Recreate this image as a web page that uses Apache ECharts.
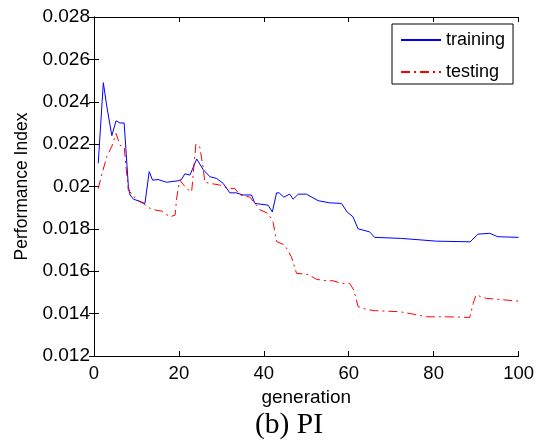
<!DOCTYPE html>
<html>
<head>
<meta charset="utf-8">
<script src="https://cdn.jsdelivr.net/npm/echarts@6/dist/echarts.min.js"></script>
<style>html,body{margin:0;padding:0;background:#fff;}#c{width:537px;height:442px;}</style>
</head>
<body>
<div id="c"></div>
<script>
var xTicks = [0, 20, 40, 60, 80, 100];
var yTicks = [0.012, 0.014, 0.016, 0.018, 0.02, 0.022, 0.024, 0.026, 0.028];
var seriesNames = ['training', 'testing'];

var trainGen = [1, 2.2, 3, 4.2, 5.2, 6.1, 7.1, 7.6, 8.1, 8.5, 9.3, 10.8, 12, 13, 13.8, 15.1, 17.1, 19.8, 20.6, 21.4, 22.6, 23, 24.2, 25.7, 27.3, 28.9, 30.4, 32, 33.5, 35.1, 37.1, 37.9, 41, 42, 43, 43.6, 44.7, 46.1, 46.9, 48.1, 50, 52.8, 55.5, 58.3, 58.6, 59.6, 61, 62.2, 63.4, 64.9, 66.1, 72.4, 77.5, 80.6, 88.6, 90.4, 93.2, 95.1, 100];
var trainPI = [0.0211, 0.0249, 0.0238, 0.0224, 0.0231, 0.0230, 0.0230, 0.0215, 0.0200, 0.0196, 0.0194, 0.0193, 0.0192, 0.0207, 0.0203, 0.02033, 0.0202, 0.02027, 0.02033, 0.0206, 0.02054, 0.0205, 0.0213, 0.0208, 0.02046, 0.02038, 0.02015, 0.0197, 0.0197, 0.0196, 0.0196, 0.0192, 0.01912, 0.0188, 0.0197, 0.0197, 0.0195, 0.01964, 0.0194, 0.01964, 0.01964, 0.01933, 0.01923, 0.0192, 0.0192, 0.0188, 0.01857, 0.0180, 0.01794, 0.01786, 0.0176, 0.01755, 0.01747, 0.01742, 0.01739, 0.01775, 0.01779, 0.01763, 0.0176];

var testGen = [1, 1.8, 3, 4.2, 5.2, 5.7, 6.1, 7.1, 7.7, 8.1, 8.9, 10, 11.6, 13.2, 14.4, 15.9, 17.9, 19.1, 19.5, 20.2, 21.8, 23, 24, 24.9, 25.7, 26.1, 27.3, 29.6, 31.6, 33.2, 34.4, 36.7, 39.1, 41, 42.2, 43, 44.9, 46.5, 47.7, 50.4, 52.4, 54.7, 56.3, 58.3, 60.2, 61.2, 62.2, 64.2, 66.1, 72, 75.1, 78.3, 83, 88.5, 89.3, 90, 92.4, 97.1, 100];
var testPI = [0.0199, 0.02054, 0.0214, 0.0219, 0.0225, 0.0222, 0.02195, 0.02187, 0.0206, 0.0198, 0.01967, 0.01936, 0.0192, 0.01897, 0.01889, 0.01884, 0.01857, 0.01865, 0.0195, 0.0203, 0.0199, 0.01975, 0.0220, 0.02187, 0.0209, 0.0202, 0.02015, 0.02007, 0.0199, 0.0199, 0.0196, 0.0195, 0.0189, 0.01873, 0.0183, 0.0174, 0.01724, 0.01668, 0.0159, 0.01585, 0.01562, 0.01555, 0.01555, 0.01543, 0.01543, 0.01511, 0.01433, 0.0142, 0.01414, 0.01409, 0.01398, 0.01385, 0.01385, 0.01382, 0.01448, 0.01488, 0.01472, 0.01464, 0.01459];

function pairs(xs, ys) { return xs.map(function (x, i) { return [x, ys[i]]; }); }

var FONT = 'Liberation Sans, Arial, sans-serif';
var chart = echarts.init(document.getElementById('c'), null, { renderer: 'canvas' });
var axisLine = { show: true, lineStyle: { color: '#000', width: 1 } };
var tickIn = { show: true, inside: true, length: 5, lineStyle: { color: '#000' } };

chart.setOption({
  animation: false,
  backgroundColor: '#fff',
  grid: { left: 94, right: 18, top: 17, bottom: 86, containLabel: false },
  legend: {
    data: seriesNames,
    orient: 'vertical',
    left: 392, top: 24,
    padding: [6, 8, 2, 8],
    itemWidth: 40, itemHeight: 14, itemGap: 12,
    backgroundColor: '#fff',
    borderColor: '#000', borderWidth: 1,
    itemStyle: { opacity: 0 },
    textStyle: { fontFamily: FONT, fontSize: 18, color: '#000', lineHeight: 20 }
  },
  xAxis: [{
    type: 'value', min: xTicks[0], max: xTicks[xTicks.length - 1], interval: 20,
    name: 'generation', nameLocation: 'middle', nameGap: 28,
    nameTextStyle: { fontFamily: FONT, fontSize: 19, color: '#000' },
    axisLine: axisLine, axisTick: tickIn, splitLine: { show: false },
    axisLabel: { fontFamily: FONT, fontSize: 18.5, color: '#000', margin: 8 }
  }, {
    type: 'value', position: 'top', min: xTicks[0], max: xTicks[xTicks.length - 1], interval: 20,
    axisLine: axisLine, axisTick: tickIn, splitLine: { show: false }, axisLabel: { show: false }
  }],
  yAxis: [{
    type: 'value', min: yTicks[0], max: yTicks[yTicks.length - 1], interval: 0.002,
    name: 'Performance Index', nameLocation: 'middle', nameGap: 62, nameRotate: 90,
    nameTextStyle: { fontFamily: FONT, fontSize: 17.5, color: '#000' },
    axisLine: axisLine, axisTick: tickIn, splitLine: { show: false },
    axisLabel: { fontFamily: FONT, fontSize: 19, color: '#000', margin: 4,
      formatter: function (v) { return String(parseFloat(v.toFixed(3))); } }
  }, {
    type: 'value', position: 'right', min: yTicks[0], max: yTicks[yTicks.length - 1], interval: 0.002,
    axisLine: axisLine, axisTick: tickIn, splitLine: { show: false }, axisLabel: { show: false }
  }],
  graphic: [{
    type: 'text', left: 255, top: 410,
    style: { text: '(b) PI', font: '29.5px "Liberation Serif", "Times New Roman", serif', fill: '#000' }
  }],
  series: [{
    name: seriesNames[0], type: 'line', data: pairs(trainGen, trainPI),
    showSymbol: false, symbol: 'none', color: '#0000ff',
    lineStyle: { color: '#0000ff', width: 1 }
  }, {
    name: seriesNames[1], type: 'line', data: pairs(testGen, testPI),
    showSymbol: false, symbol: 'none', color: '#ff0000',
    lineStyle: { color: '#ff0000', width: 1, type: [9, 4, 2, 4] }
  }]
});
</script>
</body>
</html>
